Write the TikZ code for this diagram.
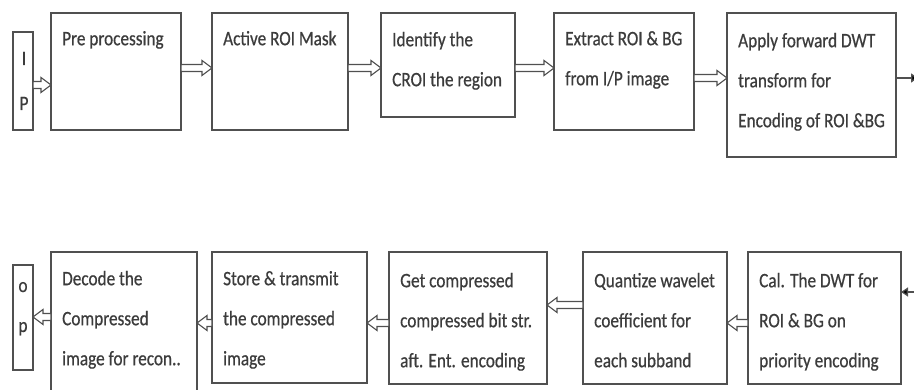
\documentclass[tikz,border=0pt]{standalone}
\usepackage{fontspec}
\setmainfont{Carlito}[FakeStretch=0.84,FakeBold=0.6]
\usetikzlibrary{arrows.meta,calc}
\definecolor{linegray}{RGB}{80,80,80}
\definecolor{textgray}{RGB}{60,60,60}
\tikzset{
  box/.style={draw=linegray, line width=1.6pt, fill=white, inner sep=0pt, outer sep=0pt, anchor=north west},
  txt/.style={text=textgray, font=\fontsize{20.5}{40}\selectfont, align=left, inner sep=0pt, anchor=north west},
  ltr/.style={text=textgray, font=\fontsize{20.5}{40}\selectfont, inner sep=0pt, anchor=base},
  blk/.style={draw=linegray, line width=1.1pt, fill=white, line join=miter,
    to path={let \p1=(\tikztostart), \p2=(\tikztotarget), \n1={ifthenelse(\x2>\x1,1,-1)} in
      (\x1,\y1-3.5) -- (\x2-10*\n1,\y1-3.5) -- (\x2-10*\n1,\y1-7.5) -- (\x2,\y1)
      -- (\x2-10*\n1,\y1+7.5) -- (\x2-10*\n1,\y1+3.5) -- (\x1,\y1+3.5) -- cycle}},
  thin/.style={draw=linegray, line width=1.3pt, -{Triangle[length=7pt,width=9pt,fill=black]}}
}
\begin{document}
\begin{tikzpicture}[x=1pt,y=-1pt]
\useasboundingbox (0,0) rectangle (914,390);
\clip (0,0) rectangle (914,390);
% top row
\node[box, minimum width=20pt, minimum height=98pt] (ip) at (13,32) {};
\node[box, minimum width=130pt, minimum height=117pt] (pre) at (51,13) {};
\node[box, minimum width=136pt, minimum height=117pt] (act) at (212,13) {};
\node[box, minimum width=134pt, minimum height=104pt] (idf) at (381,13) {};
\node[box, minimum width=140pt, minimum height=117pt] (ext) at (554,13) {};
\node[box, minimum width=169pt, minimum height=144pt] (apl) at (727,13) {};
% bottom row
\node[box, minimum width=20pt, minimum height=105pt] (op) at (13,265) {};
\node[box, minimum width=146pt, minimum height=150pt] (dec) at (51,252) {};
\node[box, minimum width=155pt, minimum height=131pt] (sto) at (212,252) {};
\node[box, minimum width=158pt, minimum height=132pt] (get) at (389,252) {};
\node[box, minimum width=144pt, minimum height=132pt] (qua) at (583,252) {};
\node[box, minimum width=153pt, minimum height=132pt] (cal) at (748,252) {};
% texts
\node[ltr] (ipi) at (24,65) {I};
\node[ltr] (ipp) at (24,110) {P};
\node[ltr] (opo) at (23,292) {o};
\node[ltr] (opp) at (23,332) {p};
\node[txt] (pret) at ([xshift=11pt,yshift=-4pt]pre.north west) {\strut Pre processing};
\node[txt] (actt) at ([xshift=11pt,yshift=-4pt]act.north west) {\strut Active ROI Mask};
\node[txt] (idft) at ([xshift=11pt,yshift=-5pt]idf.north west) {\strut Identify the\\CROI the region};
\node[txt] (extt) at ([xshift=11pt,yshift=-4pt]ext.north west) {\strut Extract ROI \& BG\\from I/P image};
\node[txt] (aplt) at ([xshift=11pt,yshift=-6pt]apl.north west) {\strut Apply forward DWT\\transform for\\Encoding of ROI \&BG};
\node[txt] (dect) at ([xshift=11pt,yshift=-5pt]dec.north west) {\strut Decode the\\Compressed\\image for recon..};
\node[txt] (stot) at ([xshift=11pt,yshift=-5pt]sto.north west) {\strut Store \& transmit\\the compressed\\image};
\node[txt] (gett) at ([xshift=11pt,yshift=-7pt]get.north west) {\strut Get compressed\\compressed bit str.\\aft. Ent. encoding};
\node[txt] (quat) at ([xshift=11pt,yshift=-7pt]qua.north west) {\strut Quantize wavelet\\coefficient for\\each subband};
\node[txt] (calt) at ([xshift=11pt,yshift=-7pt]cal.north west) {\strut Cal. The DWT for\\ROI \& BG on\\priority encoding};
% top arrows
\draw[blk] (ip.east |- 0,85) to (pre.west |- 0,85);
\draw[blk] (pre.east |- 0,68) to (act.west |- 0,68);
\draw[blk] (act.east |- 0,68) to (idf.west |- 0,68);
\draw[blk] (idf.east |- 0,68) to (ext.west |- 0,68);
\draw[blk] (ext.east |- 0,78) to (apl.west |- 0,78);
\coordinate (outR) at (918,78);
\draw[thin] (apl.east |- 0,78) -- (outR);
% bottom arrows
\coordinate (inR) at (916,292);
\draw[thin] (inR) -- (cal.east |- 0,292);
\draw[blk] (cal.west |- 0,323) to (qua.east |- 0,323);
\draw[blk] (qua.west |- 0,305) to (get.east |- 0,305);
\draw[blk] (get.west |- 0,323) to (sto.east |- 0,323);
\draw[blk] (sto.west |- 0,323) to (dec.east |- 0,323);
\draw[blk] (dec.west |- 0,317) to (op.east |- 0,317);
\end{tikzpicture}
\end{document}
